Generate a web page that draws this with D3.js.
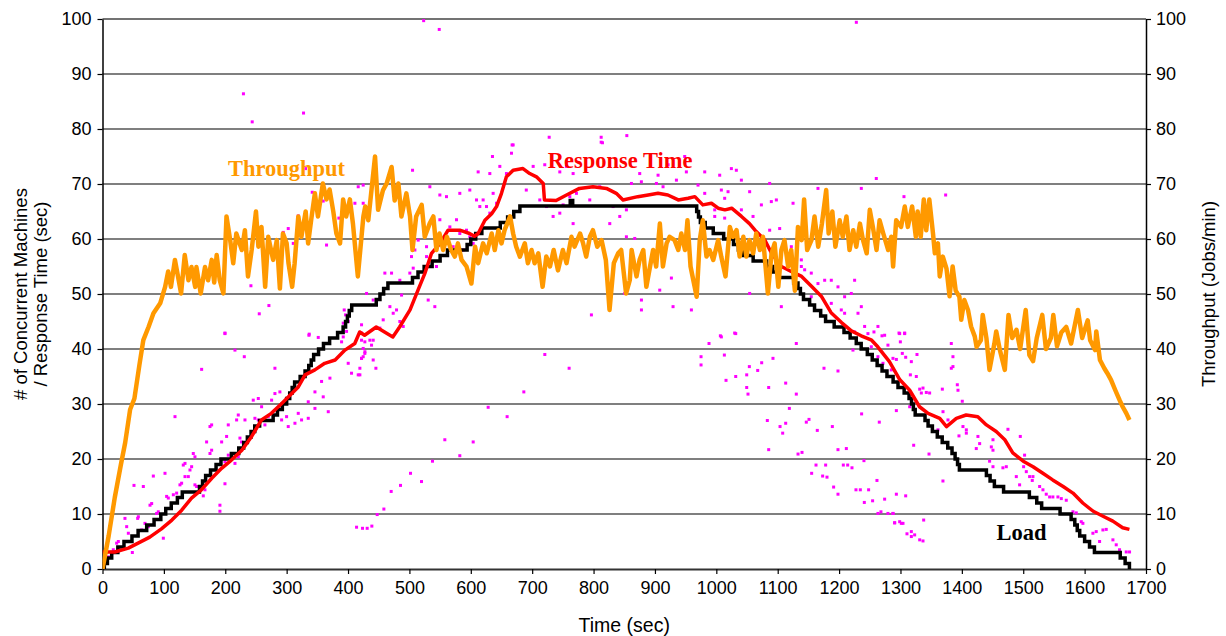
<!DOCTYPE html>
<html><head><meta charset="utf-8">
<script src="https://cdn.jsdelivr.net/npm/d3@7"></script>
<style>
body{margin:0;background:#fff;}
svg{display:block;}
</style></head>
<body>
<svg id="chart" width="1226" height="636"></svg>
<script>
// ---------------- DATA ----------------
const xTicks = [0,100,200,300,400,500,600,700,800,900,1000,1100,1200,1300,1400,1500,1600,1700];
const yTicks = [0,10,20,30,40,50,60,70,80,90,100];

// Throughput (Jobs/min) : [time, value]
const throughput = [[0,0],[10,6],[20,13],[30,19],[37,23],[45,29],[52,31],[60,37],[66.5,41.6],[75,44],[83,46.5],[94,48.3],[102,51.3],[107,54.1],[111.5,51.3],[118,56.2],[122,53.8],[128,50.1],[134,57.1],[140,52.5],[145,54.9],[151,51.3],[153,54.9],[160,50.1],[167,54.9],[172,52.5],[178,56.2],[182,52.1],[186,57.1],[191,52.5],[197,50.1],[202,64.1],[208,59.8],[213,55.6],[218,61],[227,58],[232,61.6],[237,53.2],[243,58],[250,65],[254,58.6],[259,62.2],[265,51.3],[270,60.4],[278,56.2],[284,59.8],[289,51],[294,61],[300,59.2],[303,55.6],[309,51.3],[313,55.6],[319,64.1],[324,60.4],[331,65],[335,59.2],[340,63.5],[346,68.3],[351,64.1],[359,70.1],[365,67.2],[370,69],[376,65],[381,61],[387,59.2],[392,67.2],[397,64.1],[403,67.2],[408,62.8],[416,53.2],[425,64.1],[428,65.9],[433,63.4],[444,75],[449,65.3],[457,68.9],[463,70.1],[471,73.1],[476,67],[482,70.1],[487,64.1],[495,68.3],[501,64.1],[505,58],[511,64.1],[520,66.2],[525,60.4],[533,62.8],[539,64.1],[544,58],[549,61],[555,58],[561,60.4],[568,58],[574,56.8],[579,59.2],[585,56.2],[593,55],[601,51.9],[607,58.6],[612,55.6],[620,59.2],[626,57.4],[634,61],[639,58],[645,61.6],[650,59.2],[655,61.6],[664,64.1],[669,61],[674,58.6],[680,56.8],[688,59.2],[693,55.6],[699,58],[704,55.6],[710,57.4],[717,51.3],[723,56.8],[729,55],[735,58],[742,54.3],[750,58],[756,55.6],[764,60.4],[769,58.6],[778,61],[783,59.2],[788,56.8],[794,60.4],[799,61.6],[806,58.6],[813,59.8],[820,56.2],[826,47.1],[833,55.6],[840,57.4],[845,58],[853,50.1],[859,52.5],[862,58],[870,53.2],[875,56.2],[881,58],[886,51.3],[892,55],[897,58],[902,55],[908,62.8],[913,55],[919,59.2],[924,60.4],[932,59.8],[938,58],[943,61],[949,58],[953,63.4],[958,55],[968,49.5],[973,59.8],[978,63.4],[984,56.8],[989,58],[995,56.2],[1003,59.8],[1008,56.8],[1015,53.2],[1022,62.2],[1027,60.4],[1033,61.6],[1038,56.8],[1044,60.4],[1049,56.8],[1054,59.8],[1060,57.4],[1065,61],[1071,58],[1076,60.4],[1084,50.1],[1090,57.4],[1095,59.2],[1101,51.3],[1106,58],[1111,59.8],[1117,55],[1122,58],[1128,50.6],[1133,62.2],[1139,59.8],[1143,67.2],[1148,58],[1155,59.8],[1160,64.1],[1166,58.6],[1172,62.8],[1179,68.9],[1183,61],[1189,65],[1194,58.6],[1201,63.4],[1206,60.4],[1212,64.1],[1217,58],[1223,61.6],[1228,58.6],[1234,62.8],[1239,59.8],[1245,57.4],[1250,65.3],[1255,62.2],[1261,58],[1266,63.4],[1272,61],[1280,58],[1285,60.4],[1288,55],[1293,63.4],[1301,62.2],[1307,65.9],[1312,62.2],[1319,65.9],[1325,60.4],[1328,65],[1333,60.4],[1338,67.2],[1342,61.6],[1347,67.2],[1353,61],[1356,57.4],[1361,59.2],[1364,53.2],[1369,56.8],[1375,54.6],[1380,49.6],[1385,55],[1390,50.6],[1396,49.5],[1399,45.3],[1404,48.9],[1410,47.1],[1415,44.1],[1421,42.3],[1424,40.4],[1431,41.6],[1434,46.2],[1440,42],[1445,36.2],[1453,41],[1456,43.2],[1462,39.8],[1470,36.2],[1476,46.2],[1482,42],[1489,43.5],[1495,40],[1504,47.1],[1510,38.9],[1516,37.8],[1522,42],[1531,46.2],[1537,40],[1545,42],[1549,46.2],[1555,40.5],[1562,43],[1570,44],[1578,41],[1589,47.1],[1596,42],[1605,45.2],[1609,41.6],[1617,39.8],[1619,43.2],[1625,38],[1632,36.5],[1637,35.6],[1643,34.4],[1650,32.5],[1657,30.7],[1662,29.5],[1668,28.3],[1673,27.1]];

// Average response time (sec)
const responseTime = [[0,3.1],[20,3.1],[42,3.8],[58,4.7],[77,5.8],[96,7.3],[113,8.9],[129,10.7],[145,12.9],[161,14.4],[178,16.5],[194,18.3],[210,19.8],[227,21.6],[243,24.1],[259,27.1],[275,28.3],[292,30.1],[303,31.3],[319,33.1],[330,35.3],[346,36.2],[362,37.4],[379,38],[395,39.8],[411,41],[419,43.1],[427,42.5],[446,44],[473,42.2],[484,44],[501,47.1],[514,50.7],[525,53.7],[536,57.4],[550,59.2],[563,61.6],[582,61.6],[598,61],[606,60.5],[612,61],[623,63.4],[634,64.6],[642,65.9],[650,68.3],[658,71.3],[669,72.5],[685,72.8],[696,71.9],[707,71.3],[718,70.1],[720,67.1],[739,67],[756,68],[777,69.2],[799,69.5],[821,69.2],[837,68.3],[848,67.1],[872,67.7],[889,68],[905,68.3],[921,68],[938,67.1],[954,67.4],[965,67.7],[978,66.2],[992,66.5],[1003,65.6],[1014,65.3],[1025,65.6],[1041,64.1],[1054,62.8],[1063,61.6],[1079,59.8],[1090,57.4],[1106,55],[1122,54.1],[1139,53.2],[1155,51.4],[1171,49.6],[1187,46.6],[1204,44.8],[1220,43.3],[1236,42.4],[1253,41.6],[1263,40.4],[1282,37.7],[1299,34.4],[1315,32.5],[1331,29.5],[1345,28.3],[1364,27.4],[1375,25.9],[1391,27.4],[1407,28],[1426,27.7],[1440,26.2],[1456,25],[1470,23.5],[1483,21.1],[1500,19.6],[1516,18.6],[1532,17.4],[1548,16.2],[1565,15],[1581,13.8],[1597,12],[1614,10.5],[1630,9.6],[1646,8.7],[1662,7.5],[1673,7.2]];

// Load (# of concurrent machines), step changes
const load = [[0,0],[3,1],[8,2],[15,3],[25,4],[35,5],[48,6],[58,7],[72,8],[84,9],[95,10],[103,11],[112,12],[122,13],[130,14],[158,15],[163,16],[168,17],[176,18],[185,19],[193,20],[210,21],[222,22],[230,23],[236,24],[242,25],[248,26],[256,27],[278,28],[285,29],[293,30],[300,31],[305,32],[309,33],[313,34],[322,35],[330,36],[336,37],[340,38],[344,39],[352,40],[360,41],[370,42],[383,43],[392,44],[396,45],[399,46],[402,47],[406,48],[446,49],[452,50],[458,51],[465,52],[505,53],[514,54],[524,55],[537,56],[550,57],[562,58],[594,59],[600,60],[608,61],[618,62],[648,63],[660,64],[670,65],[680,66],[762,67],[766,66],[965,66],[968,65],[971,64],[974,63],[982,62],[995,61],[1012,60],[1028,59],[1036,58],[1044,57],[1060,56],[1082,55],[1092,54],[1100,53],[1126,52],[1133,51],[1137,50],[1142,49],[1152,48],[1160,47],[1170,46],[1178,45],[1192,44],[1208,43],[1218,42],[1228,41],[1236,40],[1246,39],[1254,38],[1262,37],[1270,36],[1278,35],[1288,34],[1296,33],[1306,32],[1314,31],[1318,30],[1321,29],[1324,28],[1340,27],[1345,26],[1352,25],[1360,24],[1368,23],[1377,22],[1384,21],[1389,20],[1393,19],[1396,18],[1440,17],[1446,16],[1453,15],[1468,14],[1510,13],[1522,12],[1530,11],[1560,10],[1578,9],[1584,8],[1588,7],[1592,6],[1600,5],[1608,4],[1616,3],[1658,2],[1666,1],[1673,0]];

// Individual job response times (sec)
const responseSamples = [[199.5,42.8],[215.8,39.8],[231,38.6],[161.5,36.3],[280.9,36.5],[336.3,42.5],[389.5,41.3],[422,38.3],[427.5,39.5],[400.3,37.4],[405.7,35.6],[416.6,35.3],[370.5,34.7],[356.9,34.1],[346.1,32.2],[359.6,31.3],[335.2,30.4],[346.1,29.2],[367.8,28.6],[318.9,28.3],[324.3,27.1],[335.2,27.4],[313.5,26.5],[302.6,25.9],[291.8,27.1],[299.9,27.7],[275.5,30.7],[259.2,29.5],[245.6,30.7],[253.8,31],[280.9,31.9],[289,32.2],[270,27.7],[264.6,26.2],[253.8,27.1],[248.3,27.4],[232.1,27.1],[221.2,28],[218.5,27.1],[204.9,26.2],[175.1,25.9],[177.8,26.2],[118.1,27.7],[223.9,23.8],[226.6,23.1],[202.2,24.1],[194.1,23.1],[169.6,23.1],[177.8,21.6],[175.1,21],[150.6,20.4],[147.9,21],[213.1,21],[221.2,20.4],[204.9,20.7],[199.5,19.5],[215.8,19.2],[134.4,19.2],[131.6,18.9],[145.2,18.6],[142.5,18],[101.8,17.4],[82.8,16.9],[134.4,16.8],[139.8,16.8],[150.6,15.3],[153.3,15],[128.9,15.6],[126.2,15.3],[120.8,13.8],[115.4,13.5],[104.5,13.2],[107.2,12.9],[164.2,13.3],[166.9,14.4],[191.3,11.6],[191.3,10.5],[199.5,15.5],[66.5,15],[51.3,15.2],[80.1,11.9],[77.4,11.6],[90.9,10.4],[88.2,10.1],[99.1,5.6],[58.4,9.5],[57.3,9.2],[39.4,7.7],[36.6,9.2],[25.8,5],[23.1,4.7],[48.6,3],[413.9,7.6],[69.2,8.3],[74.6,7.7],[63.8,7.1],[42.1,6.5],[17.6,3.5],[14.9,2.8],[9.5,2.2],
[422,41.6],[427.4,41.3],[441,41.6],[438.3,40.7],[424.7,40.1],[427.4,39.2],[422,38.3],[441,38],[445.4,36.5],[419.3,36.5],[419.3,35.3],[424.7,38.6],[720.6,39],[760.2,36.5],[686.4,32.2],[628.3,29.4],[659.2,27.7],[557.7,23.5],[603.9,23.1],[582.1,20.6],[537.6,19.6],[501.8,17.4],[519.7,15.9],[485.5,15.2],[470.3,14.1],[458.4,10.9],[447.5,9.9],[438.8,7.8],[431.2,7.4],[423.6,7.4],
[1006.6,42.4],[1031.6,42.8],[988.1,41],[1130.3,41],[975.1,38.6],[975.1,37.1],[1013.1,38.9],[1015.8,34.3],[1031.6,35],[1049.5,35.3],[1053.8,36.8],[1073.9,37.5],[1092.3,38.3],[1067.4,36.1],[1049.5,33],[1051.6,31.8],[1085.3,33],[1113,33.8],[1130.3,31.8],[1175.4,36.5],[1198.2,36],[1119,29.2],[1083.1,27],[1103.8,25.9],[1113,26.5],[1108.1,24.7],[1146.6,26.7],[1151,27.2],[1164.5,25.2],[1189,25.9],[1236.7,28.2],[1265.5,26.7],[1085.3,21.7],[1133.1,20.9],[1139.6,21.2],[1198.2,21.7],[1211.8,21.9],[1162.4,18.9],[1178.1,18.9],[1206.9,18.9],[1214,18.9],[1221,18.4],[1240.5,19.7],[1155.3,17.4],[1173.2,16.9],[1180.3,16.7],[1191.1,14.9],[1198.2,13.6],[1227.5,14.4],[1234.6,14.4],[1248.1,14.4],[1261.7,16.1],[1274.2,12.7],[1241.1,12.1],[1254.6,12.4],[1263.3,10.1],[1268.2,10.4],[1279.6,10.1],[1287.8,10.1],[1290.5,8.4],[1225.3,43.1],[1247,42.8],[1256.8,43.1],[1269.9,42.4],[1252.5,40.4],[1263.3,38.6],[1279.6,40.7],[1271.5,37.4],[1285,36.2],[1222.6,39.8],[1287.8,38.3],
[1298.7,42.8],[1306.8,42.8],[1299.8,41.3],[1382.8,41],[1303,39.2],[1308.5,38.5],[1317.7,37.7],[1326.9,39],[1293.3,38.1],[1385.5,38.6],[1385.5,36.8],[1382.8,36.5],[1316.1,35.3],[1325.8,35],[1331.3,32.7],[1336.7,32.9],[1342.1,32.1],[1347.5,32],[1334,32],[1368.2,32.7],[1392.6,33.5],[1393.7,32.5],[1400.7,30.5],[1293.3,28.8],[1315,29.5],[1321.5,22.5],[1346.5,20.9],[1361.1,25.3],[1369.3,28.6],[1377.4,27.1],[1395.3,24.2],[1401.8,25.9],[1407.3,25.3],[1407.3,24.7],[1423.5,21.9],[1426.2,24.1],[1429,22.8],[1448,22.2],[1450.7,21.6],[1450.7,23.5],[1475.1,25.4],[1495.2,24.1],[1445.2,19.6],[1450.7,18.6],[1466.9,18.4],[1472.4,18.6],[1488.7,16.8],[1502.2,20.7],[1500.6,18.6],[1505,17.7],[1494.1,15.3],[1510.4,16.8],[1515.8,16.8],[1514.7,16.1],[1526.7,15],[1532.1,14.4],[1537.5,13.6],[1543,13.1],[1548.3,13.1],[1556.5,13.1],[1562,12.8],[1570.1,12.5],[1581,10.4],[1586.4,10.2],[1594.5,8.6],[1597.2,8.3],[1613.5,6.5],[1618.9,6.8],[1629.8,7.1],[1635.2,7.2],[1624.4,5],[1646.1,5.3],[1651.5,4.4],[1656.9,3.5],[1667.8,3.1],[1673.2,3.1],[1369.2,16],[1293.3,13.6],[1308.5,13.3],[1287.8,10.1],[1298.7,8.6],[1304.1,8.3],[1310.6,6.4],[1317.7,6.8],[1323.1,6.2],[1317.7,5.9],[1331.3,5.3],[1336.7,5.1],[1337.8,8.9],[1290.5,8.4],[1301.4,8.3],
[669,77.1],[814.5,77.5],[612,72.2],[635.3,75],[666.3,75.6],[647.3,73.2],[631,71.9],[658.1,71.9],[701.6,73.2],[720.5,73.5],[745,72.2],[755.8,73.2],[766.7,71.9],[505.1,72.5],[533.3,69.5],[549.6,68],[560.4,67.7],[582.1,68.3],[598.4,68.9],[609.3,67.1],[614.7,65.9],[625.6,65.9],[631,64.7],[620.1,67.1],[636.4,68.3],[641.9,66.5],[549.6,63.5],[565.9,62.2],[576.7,63.5],[582.1,61],[593,61.6],[598.4,60.4],[603.9,59.2],[587.6,58],[571.3,58.6],[557.7,59.8],[527.9,58.6],[527.9,56.8],[544.1,55],[503.4,56.8],[514.3,59.8],[508.9,58],[500.7,53.8],[506.2,54.7],[470.9,53.8],[460,53.8],[484.4,52.5],[487.2,49.8],[479,47.1],[473.6,46.5],[468.2,47.7],[457.3,45.3],[484.4,45],[489.9,44.1],[451.9,43.8],[441,48.9],[430.2,50.1],[422,42.9],[435.6,41.6],[530.6,48.9],[541.4,47.7],[766.7,62.8],[745,64.7],[734.1,64.1],[723.3,65.9],[750.4,66.2],[793.8,67.1],[831.8,65.9],[842.7,64.1],[853.5,65.3],[826.4,62.8],[796.5,46.2],[690.4,68.9],[712.4,67.1],[761.3,67.7],[772.1,68.3],[810.1,69.5],
[948.5,75],[981.1,72.2],[1005.5,71.6],[1024.5,72.8],[1032.6,72.5],[1040.8,70.7],[1086.9,70.1],[1260.6,71],[1236.2,69.2],[1165.6,69.2],[875.2,71.9],[905.1,71.6],[935,70.7],[951.2,72.2],[921.4,73.5],[861.7,70.1],[877.9,70.4],[902.4,70.1],[913.2,69.5],[970.2,69.8],[981.1,68.3],[997.4,65.3],[1013.6,67.4],[1019.1,68.6],[1008.2,68.9],[997.4,64.1],[1013.6,63.8],[1040.8,65.3],[1054.3,68.6],[1059.8,64.1],[1073.4,66.2],[1089.6,66.8],[1086.9,61.6],[1103.2,61.9],[1070.6,58],[1089.6,57.4],[1122.2,58.6],[1138.5,56.2],[1143.9,54.4],[1154.7,53.8],[1176.5,52.5],[1187.3,52.5],[1198.2,51.3],[1209,49.5],[1219.9,50.1],[1225.3,52.5],[1230.8,46.5],[1236.2,47.7],[1241.6,44.1],[1263.3,44.1],[1274.2,42.5],[1154.7,49.5],[1165.6,51.9],[1187.3,48.3],[1203.6,47.1],[1209,46.5],[1138.5,55],[1105.9,47.7],[1008.2,42.2],[1029.9,42.9],[926.8,52.9],[929.5,47.7],[959.4,47.1],[878,48.9],[878,47.1],[907.8,50.7],[888.8,53.2],[853.5,60.4],[867.1,60.1],[850.8,50.1],[1054.3,50.1],[1125,66.5],[1097.8,67.1],
[330.8,72.8],[341.7,68.5],[346,67.5],[359.6,66.9],[318.9,64.2],[294.5,61.2],[302.6,61.9],[310.8,59.2],[365,58.9],[385.1,63.8],[416.6,69.5],[424.7,69.8],[411.2,66.5],[424.7,66.5],[241.8,51.5],[271.1,47.9],[255.4,46.4],[199.5,42.9],[336.8,42.7],[351.5,42.1],[393.8,47.1],[396,46.2],[392.2,44.7],[397.6,43.2],[400.3,45],[392.2,42.2],[422,44.4],
[523.2,99.7],[548.6,98.1],[1228.1,99.4],[229.6,86.4],[327.5,82.9],[243.9,81.3],[727.7,78.5],[812.4,78.5],[854.2,78.8],[812.4,77.6],[667.3,77.1],[1305.7,67.7],[1373.6,68],[1297.6,42.9],[1306.8,42.9]];

// Series label anchors [time, value]
const seriesLabels = [
  {text:"Throughput", t:204.4, v:71.5, color:"#FF9900"},
  {text:"Response Time", t:725.4, v:72.9, color:"#FF0000"},
  {text:"Load", t:1456.6, v:5.3, color:"#000000"}
];

// ---------------- CHART ----------------
const W = 1226, H = 636;
const plot = {left:102.5, right:1146, top:19, bottom:569};
const svg = d3.select("#chart");
svg.append("rect").attr("width",W).attr("height",H).attr("fill","#fff");

const x = d3.scaleLinear().domain([0,1700]).range([plot.left, plot.right]);
const y = d3.scaleLinear().domain([0,100]).range([plot.bottom, plot.top]);
const y2 = d3.scaleLinear().domain([0,100]).range([plot.bottom, plot.top]);

svg.append("defs").append("clipPath").attr("id","clip")
  .append("rect").attr("x",plot.left).attr("y",plot.top-3)
  .attr("width",plot.right-plot.left).attr("height",plot.bottom-plot.top+3);

// gridlines
svg.append("g").selectAll("line").data(yTicks.filter(d=>d>0)).join("line")
  .attr("x1",plot.left).attr("x2",plot.right)
  .attr("y1",d=>y(d)).attr("y2",d=>y(d))
  .attr("stroke",d=>d===100?"#444":"#000").attr("stroke-width",d=>d===100?1.5:1.1);

const fontSans = "'Liberation Sans', Arial, Helvetica, sans-serif";
const fmt = d3.format("d");

// axes
const gx = svg.append("g").attr("transform",`translate(0,${plot.bottom})`)
  .call(d3.axisBottom(x).tickValues(xTicks).tickFormat(fmt).tickSize(5).tickSizeOuter(0).tickPadding(7));
const gy = svg.append("g").attr("transform",`translate(${plot.left},0)`)
  .call(d3.axisLeft(y).tickValues(yTicks).tickFormat(fmt).tickSize(5).tickSizeOuter(0).tickPadding(6));
const gy2 = svg.append("g").attr("transform",`translate(${plot.right},0)`)
  .call(d3.axisRight(y2).tickValues(yTicks).tickFormat(fmt).tickSize(5).tickSizeOuter(0).tickPadding(5));
[gx,gy,gy2].forEach(g=>{
  g.selectAll("text").attr("font-family",fontSans).attr("font-size",18).attr("fill","#000");
  g.selectAll("line").attr("stroke","#000").attr("stroke-width",1.2);
  g.select(".domain").attr("stroke","#000").attr("stroke-width",1.5);
});
gx.select(".domain").attr("stroke","#333").attr("stroke-width",1.8);

// axis titles
svg.append("text").attr("x",(plot.left+plot.right)/2).attr("y",632)
  .attr("text-anchor","middle").attr("font-family",fontSans).attr("font-size",19.5)
  .text("Time (sec)");
const lt = svg.append("text").attr("transform",`translate(27,${(plot.top+plot.bottom)/2}) rotate(-90)`)
  .attr("text-anchor","middle").attr("font-family",fontSans).attr("font-size",18.5);
lt.append("tspan").attr("x",0).attr("dy",0).text("# of Concurrent Machines");
lt.append("tspan").attr("x",0).attr("dy",20).text("/ Response Time (sec)");
svg.append("text").attr("transform",`translate(1215,${(plot.top+plot.bottom)/2}) rotate(-90)`)
  .attr("text-anchor","middle").attr("font-family",fontSans).attr("font-size",18.5)
  .text("Throughput (Jobs/min)");

const marks = svg.append("g").attr("clip-path","url(#clip)");

// scatter of individual response times
marks.append("g").selectAll("rect").data(responseSamples).join("rect")
  .attr("x",d=>x(d[0])-1.5).attr("y",d=>y(d[1])-1.5)
  .attr("width",3).attr("height",3).attr("fill","#FF00FF");

// load step line
marks.append("path").datum(load)
  .attr("d",d3.line().x(d=>x(d[0])).y(d=>y(d[1])).curve(d3.curveStepAfter))
  .attr("fill","none").attr("stroke","#000").attr("stroke-width",3.5).attr("stroke-linejoin","miter");

// response time line
marks.append("path").datum(responseTime)
  .attr("d",d3.line().x(d=>x(d[0])).y(d=>y(d[1])))
  .attr("fill","none").attr("stroke","#FF0000").attr("stroke-width",3.5).attr("stroke-linejoin","round");

// throughput line
marks.append("path").datum(throughput)
  .attr("d",d3.line().x(d=>x(d[0])).y(d=>y2(d[1])))
  .attr("fill","none").attr("stroke","#FF9900").attr("stroke-width",4.5).attr("stroke-linejoin","round");

// series labels
svg.append("g").selectAll("text").data(seriesLabels).join("text")
  .attr("x",d=>x(d.t)).attr("y",d=>y(d.v))
  .attr("font-family","'Liberation Serif','Times New Roman',serif").attr("font-weight","bold")
  .attr("font-size",22.5).attr("fill",d=>d.color).text(d=>d.text);
</script>
</body></html>
